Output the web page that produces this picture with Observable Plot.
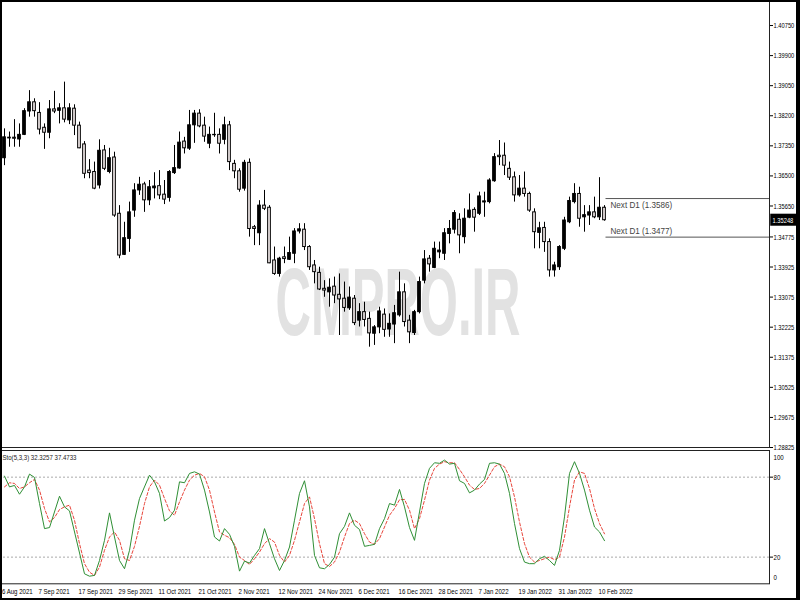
<!DOCTYPE html>
<html><head><meta charset="utf-8">
<script src="https://cdn.jsdelivr.net/npm/d3@7"></script>
<script src="https://cdn.jsdelivr.net/npm/@observablehq/plot@0.6"></script>
<style>
html,body{margin:0;padding:0;background:#fff;}
#wrap{position:relative;width:800px;height:600px;overflow:hidden;background:#fff;}
#main{position:absolute;left:0;top:0;}
#sto{position:absolute;left:0;top:450px;}
#border{position:absolute;left:0;top:0;width:800px;height:600px;box-sizing:border-box;border-style:solid;border-color:#000;border-width:2px 4px 2px 2px;pointer-events:none;}
</style></head>
<body><div id="wrap"><div id="main"></div><div id="sto"></div><div id="border"></div></div>
<script>
// ---- Daily candles (bar index 1..121; bar 0 = 26 Aug 2021) ----
const opens = [1.3700,1.3758,1.3758,1.3753,1.3766,1.3832,1.3858,1.3828,1.3786,1.3772,1.3838,1.3834,1.3841,1.3807,1.3840,1.3792,1.3739,1.3665,1.3661,1.3623,1.3722,1.3661,1.3702,1.3543,1.3427,1.3472,1.3552,1.3609,1.3626,1.3581,1.3615,1.3621,1.3597,1.3588,1.3658,1.3671,1.3747,1.3727,1.3793,1.3826,1.3792,1.3741,1.3765,1.3766,1.3752,1.3793,1.3684,1.3663,1.3614,1.3687,1.3505,1.3488,1.3566,1.3560,1.3411,1.3373,1.3420,1.3413,1.3430,1.3493,1.3498,1.3449,1.3397,1.3376,1.3331,1.3321,1.3337,1.3314,1.3303,1.3276,1.3303,1.3241,1.3265,1.3246,1.3204,1.3222,1.3258,1.3216,1.3230,1.3256,1.3321,1.3241,1.3206,1.3265,1.3354,1.3416,1.3390,1.3434,1.3430,1.3486,1.3498,1.3526,1.3477,1.3532,1.3554,1.3543,1.3575,1.3576,1.3635,1.3707,1.3707,1.3670,1.3646,1.3595,1.3614,1.3599,1.3547,1.3489,1.3503,1.3463,1.3383,1.3392,1.3444,1.3519,1.3576,1.3599,1.3533,1.3538,1.3547,1.3533,1.3560];
const highs = [1.3783,1.3774,1.3809,1.3797,1.3840,1.3891,1.3868,1.3857,1.3797,1.3863,1.3889,1.3854,1.3915,1.3854,1.3851,1.3802,1.3747,1.3696,1.3689,1.3752,1.3736,1.3728,1.3717,1.3566,1.3519,1.3576,1.3628,1.3646,1.3632,1.3637,1.3659,1.3665,1.3637,1.3665,1.3736,1.3774,1.3759,1.3835,1.3835,1.3837,1.3816,1.3788,1.3827,1.3783,1.3816,1.3804,1.3694,1.3670,1.3694,1.3698,1.3510,1.3580,1.3609,1.3566,1.3449,1.3420,1.3449,1.3477,1.3501,1.3515,1.3515,1.3453,1.3411,1.3392,1.3354,1.3359,1.3364,1.3373,1.3350,1.3336,1.3312,1.3289,1.3293,1.3265,1.3227,1.3279,1.3274,1.3260,1.3284,1.3378,1.3345,1.3256,1.3270,1.3364,1.3439,1.3425,1.3463,1.3463,1.3501,1.3524,1.3552,1.3543,1.3557,1.3599,1.3560,1.3604,1.3604,1.3642,1.3713,1.3750,1.3743,1.3689,1.3661,1.3651,1.3661,1.3604,1.3557,1.3519,1.3519,1.3472,1.3406,1.3453,1.3533,1.3590,1.3628,1.3618,1.3566,1.3566,1.3590,1.3645,1.3566];
const lows = [1.3679,1.3731,1.3731,1.3731,1.3764,1.3816,1.3816,1.3766,1.3725,1.3755,1.3826,1.3797,1.3800,1.3795,1.3764,1.3727,1.3642,1.3642,1.3611,1.3613,1.3665,1.3656,1.3533,1.3416,1.3425,1.3434,1.3533,1.3595,1.3547,1.3566,1.3585,1.3583,1.3569,1.3576,1.3654,1.3669,1.3712,1.3722,1.3742,1.3786,1.3745,1.3727,1.3759,1.3712,1.3738,1.3665,1.3642,1.3604,1.3607,1.3477,1.3453,1.3453,1.3552,1.3402,1.3369,1.3364,1.3402,1.3411,1.3402,1.3486,1.3439,1.3383,1.3345,1.3326,1.3307,1.3279,1.3289,1.3199,1.3265,1.3270,1.3227,1.3223,1.3223,1.3166,1.3171,1.3204,1.3194,1.3194,1.3176,1.3251,1.3223,1.3176,1.3199,1.3260,1.3345,1.3378,1.3388,1.3416,1.3411,1.3458,1.3486,1.3430,1.3458,1.3529,1.3491,1.3538,1.3533,1.3571,1.3632,1.3679,1.3651,1.3637,1.3576,1.3590,1.3590,1.3547,1.3444,1.3444,1.3434,1.3364,1.3364,1.3383,1.3439,1.3515,1.3571,1.3505,1.3491,1.3510,1.3529,1.3524,1.3522];
const closes = [1.3759,1.3756,1.3755,1.3766,1.3833,1.3858,1.3833,1.3781,1.3772,1.3838,1.3832,1.3841,1.3809,1.3841,1.3792,1.3728,1.3656,1.3658,1.3614,1.3721,1.3670,1.3700,1.3538,1.3425,1.3474,1.3547,1.3609,1.3625,1.3581,1.3618,1.3620,1.3595,1.3583,1.3661,1.3672,1.3744,1.3728,1.3793,1.3826,1.3790,1.3761,1.3766,1.3766,1.3741,1.3793,1.3689,1.3663,1.3611,1.3687,1.3500,1.3500,1.3566,1.3557,1.3403,1.3373,1.3416,1.3415,1.3432,1.3493,1.3499,1.3449,1.3392,1.3378,1.3329,1.3326,1.3334,1.3312,1.3301,1.3277,1.3306,1.3234,1.3265,1.3243,1.3205,1.3222,1.3267,1.3215,1.3232,1.3262,1.3321,1.3237,1.3208,1.3265,1.3350,1.3414,1.3400,1.3444,1.3439,1.3488,1.3500,1.3545,1.3482,1.3529,1.3552,1.3532,1.3592,1.3578,1.3637,1.3703,1.3703,1.3679,1.3645,1.3595,1.3614,1.3599,1.3552,1.3491,1.3502,1.3463,1.3383,1.3397,1.3449,1.3524,1.3579,1.3599,1.3529,1.3539,1.3547,1.3533,1.3560,1.35248];

// ---- Stochastic (5,3,3): %K main (green) and %D signal (red dashed) ----
const kBars = [1,2,3,4,5,6,7,8,9,10,12,13,14,17,18,19,20,21,22,23,24,25,26,27,28,30,31,32,33,34,35,36,37,38,39,40,41,42,43,44,45,46,47,48,49,50,51,52,53,54,55,56,57,58,59,60,61,62,63,64,65,66,67,68,69,70,71,72,73,74,75,76,77,78,79,80,81,82,83,84,85,86,87,88,89,90,91,92,93,94,95,96,97,98,99,100,101,102,103,104,105,106,107,108,109,110,111,112,113,114,115,116,117,118,119,120,121];
const kVals = [80.8,72.7,73.8,67.2,72.7,82.3,79.8,60.2,41.4,42.2,65.7,57.7,54.7,7.5,5.7,6.3,17.5,32.6,53.2,35.1,17.5,11.3,25.1,47.7,64.0,81.5,76.5,67.8,47.1,49.7,55.2,76.5,75.8,82.8,84.0,82.3,70.3,53.9,35.1,32.1,41.4,37.1,28.1,9.5,17.0,15.5,21.3,26.4,41.4,30.1,18.8,10.0,17.5,27.6,47.7,67.8,77.3,57.7,21.3,12.0,11.3,14.5,20.0,37.6,43.1,53.2,43.9,40.7,28.1,28.8,29.6,41.4,48.9,60.2,59.0,70.8,57.7,42.2,32.6,53.9,75.3,86.6,90.8,90.4,92.8,89.8,90.4,77.3,75.3,68.2,70.3,74.8,78.3,90.4,90.8,89.8,82.8,67.8,45.2,26.4,16.3,15.1,15.1,18.8,20.6,17.5,13.8,25.1,50.2,82.8,91.6,82.8,70.3,55.2,42.6,38.9,32.3257];
const dVals = [72.7,75.8,75.3,71.5,72.7,75.8,78.3,70.3,56.5,46.4,49.7,55.7,57.7,59.0,47.7,30.1,15.1,8.7,6.3,12.5,25.1,35.1,38.9,32.6,18.8,17.5,28.1,43.1,60.2,72.7,77.8,74.0,64.0,54.7,51.4,61.4,70.3,77.8,81.5,82.8,80.3,70.3,53.9,38.9,36.4,34.6,29.6,20.0,17.5,14.5,18.8,23.8,30.1,33.9,31.3,21.3,16.3,21.3,32.6,46.4,60.2,65.2,48.9,30.1,15.1,13.0,16.3,23.8,35.1,45.2,47.7,45.2,37.6,31.3,29.6,33.9,42.6,51.4,56.5,63.0,63.3,55.2,41.4,48.9,62.7,77.8,86.6,89.8,91.6,90.8,90.8,85.8,80.3,74.0,70.8,71.5,75.3,81.5,87.8,89.8,87.8,80.3,65.2,46.4,30.1,20.0,16.3,17.5,18.8,20.0,18.1,20.0,35.1,57.7,77.8,84.0,82.8,71.5,56.5,45.2,37.4733];

// ---- Axis ticks and labels ----
const priceTicks = [1.40750,1.39900,1.39050,1.38200,1.37350,1.36500,1.35650,1.34775,1.33925,1.33075,1.32225,1.31375,1.30525,1.29675,1.28825];
const dateTicks = [0,8,16,24,32,40,48,56,64,72,80,88,96,104,112,120];
const dateLabels = ["26 Aug 2021","7 Sep 2021","17 Sep 2021","29 Sep 2021","11 Oct 2021","21 Oct 2021","2 Nov 2021","12 Nov 2021","24 Nov 2021","6 Dec 2021","16 Dec 2021","28 Dec 2021","7 Jan 2022","19 Jan 2022","31 Jan 2022","10 Feb 2022"];
const nextD1High = 1.3586, nextD1Low = 1.3477;
const stoLabel = "Sto(5,3,3) 32.3257 37.4733";
const watermark = "CMPRO.IR";

const FONT = "'Liberation Sans','DejaVu Sans',sans-serif";
const candles = opens.map((o,i)=>({k:i+1, o, h:highs[i], l:lows[i], c:closes[i]}));
const lastClose = closes[closes.length-1];
const lastBar = candles.length;
const XDOM = [0.2, 154];

const main = Plot.plot({
  width:800, height:449, marginTop:0, marginBottom:2, marginLeft:0, marginRight:31,
  style:{fontFamily:FONT, fontSize:"8px", background:"transparent", overflow:"visible", color:"#000"},
  x:{type:"linear", domain:XDOM, axis:null},
  y:{domain:[1.28825,1.41457]},
  marks:[
    Plot.text([watermark], {x:()=>79.7, y:()=>1.3287, text:d=>d, fontSize:96, fontWeight:"bold", fill:"#e2e2e2", textAnchor:"middle", className:"wm"}),
    Plot.ruleX(candles, {x:"k", y1:"l", y2:"h", stroke:"#000", strokeWidth:1}),
    Plot.rect(candles, {x1:d=>d.k-0.27, x2:d=>d.k+0.27, y1:"o", y2:"c", fill:d=>d.c>d.o?"#000":"#f4ecec", stroke:"#000", strokeWidth:1}),
    Plot.ruleY([nextD1High, nextD1Low], {y:d=>d, x1:()=>lastBar+0.3, x2:()=>XDOM[1], stroke:"#555", strokeWidth:1}),
    Plot.text([nextD1High], {x:()=>lastBar+1.2, y:d=>d, text:d=>`Next D1 (${d.toFixed(4)})`, textAnchor:"start", dy:7, fill:"#444", fontSize:9}),
    Plot.text([nextD1Low], {x:()=>lastBar+1.2, y:d=>d, text:d=>`Next D1 (${d.toFixed(4)})`, textAnchor:"start", dy:-6, fill:"#444", fontSize:9}),
    Plot.frame({stroke:"#222"}),
    Plot.axisY({anchor:"right", ticks:priceTicks, tickFormat:d=>d.toFixed(5), tickSize:3, tickPadding:1, label:null, fontSize:8}),
    Plot.rect([lastClose], {x1:()=>154.25, x2:()=>159.8, y1:d=>d-0.0017, y2:d=>d+0.0017, fill:"#000"}),
    Plot.text([lastClose], {x:()=>154.6, y:d=>d, text:d=>d.toFixed(5), textAnchor:"start", fill:"#fff", fontSize:8})
  ]
});
document.getElementById("main").appendChild(main);

const kData = kBars.map((k,i)=>({k, v:kVals[i]}));
const dData = dVals.map((v,i)=>({k:i+1, v}));

const sto = Plot.plot({
  width:800, height:150, marginTop:0, marginBottom:16.7, marginLeft:0, marginRight:31,
  style:{fontFamily:FONT, fontSize:"8px", background:"transparent", overflow:"visible", color:"#000"},
  x:{type:"linear", domain:XDOM},
  y:{domain:[0,100]},
  marks:[
    Plot.ruleY([20,80], {x1:()=>XDOM[0]-1, x2:()=>XDOM[1], stroke:"#aaa", strokeDasharray:"2,2"}),
    Plot.line(dData, {x:"k", y:"v", stroke:"#e8463c", strokeDasharray:"3,2", strokeWidth:1}),
    Plot.line(kData, {x:"k", y:"v", stroke:"#2f8f35", strokeWidth:1}),
    Plot.frame({stroke:"#222"}),
    Plot.axisY({anchor:"right", ticks:[20,80], tickSize:3, tickPadding:1, label:null, fontSize:8}),
    Plot.text([100], {x:()=>XDOM[1], y:d=>d, text:d=>String(d), dx:4, dy:7, textAnchor:"start", fontSize:8}),
    Plot.text([0], {x:()=>XDOM[1], y:d=>d, text:d=>String(d), dx:4, dy:-6, textAnchor:"start", fontSize:8}),
    Plot.axisX({anchor:"bottom", ticks:dateTicks, tickFormat:d=>dateLabels[dateTicks.indexOf(d)], tickSize:0, tickPadding:5, textAnchor:"start", dx:-1, label:null, fontSize:8}),
    Plot.text([stoLabel], {frameAnchor:"top-left", text:d=>d, dx:2, dy:4, textAnchor:"start", fontSize:8, fill:"#222"})
  ]
});
document.getElementById("sto").appendChild(sto);

// Condense the small MT4-style texts (the terminal uses a narrow font)
function condense(svg){
  d3.select(svg).selectAll("text").each(function(){
    const t = this.textContent;
    if (t === watermark) { this.setAttribute("textLength", 245); this.setAttribute("lengthAdjust","spacingAndGlyphs"); return; }
    const f = t.startsWith("Next") ? 0.9 : (/^1\.\d{5}$/.test(t) ? 0.72 : 0.76);
    const len = this.getComputedTextLength();
    if (len > 0) { this.setAttribute("textLength", (len*f).toFixed(1)); this.setAttribute("lengthAdjust","spacingAndGlyphs"); }
  });
}
condense(main); condense(sto);
</script>
</body></html>
